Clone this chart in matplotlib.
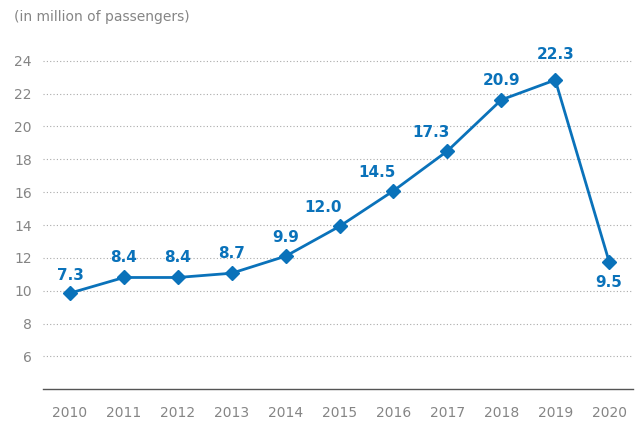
import matplotlib
matplotlib.use("Agg")
import matplotlib.pyplot as plt
import numpy as np

plt.rcParams['font.family'] = ['DejaVu Sans']

# passengers per year (million)
years = [2010, 2011, 2012, 2013, 2014, 2015, 2016, 2017, 2018, 2019, 2020]
passengers = [7.3, 8.4, 8.4, 8.7, 9.9, 12.0, 14.5, 17.3, 20.9, 22.3, 9.5]
grid_labels = [6, 8, 10, 12, 14, 16, 18, 20, 22, 24]

# printed grid runs on its own scale: grid = slope * value + shift
slope, shift = 0.865, 3.54

# label offsets in pixels (dx, dy)
label_dx = [0, 0, 0, 0, 0, -17, -16, -16, 0, 0, 0]
label_dy = [18, 20, 20, 20, 19, 19, 18, 19, 19, 25, -21]

blue = '#0a72ba'
grey = '#858585'

def to_value(g):
    return (g - shift) / slope

fig = plt.figure(figsize=(6.38, 4.21), dpi=100)
ax = fig.add_axes([0.0674, 0.0753, 0.9246, 0.80])

ax.plot(years, passengers, color=blue, lw=2.0, marker='D', markersize=7.5, zorder=3)

for x, v, dx, dy in zip(years, passengers, label_dx, label_dy):
    ax.annotate(f'{v:.1f}', (x, v), xytext=(dx * 0.72, dy * 0.72), textcoords='offset points',
                ha='center', va='center', fontsize=11, fontweight='bold', color=blue)

ticks = [to_value(g) for g in grid_labels]
ax.set_yticks(ticks)
ax.set_yticklabels([str(g) for g in grid_labels])
ax.set_ylim(to_value(4.0), to_value(24.5))
ax.set_xlim(2009.5, 2020.44)
ax.set_xticks(years)

ax.grid(axis='y', color='#aaaaaa', linestyle=(0, (1, 2)), lw=0.8)
ax.set_axisbelow(True)
for s in ['top', 'right', 'left']:
    ax.spines[s].set_visible(False)
ax.spines['bottom'].set_color('#555555')
ax.spines['bottom'].set_linewidth(1.0)
ax.tick_params(axis='both', length=0, labelsize=10, labelcolor=grey)
ax.tick_params(axis='x', pad=12)
ax.tick_params(axis='y', pad=8)

fig.text(14 / 638, 1 - 17 / 421, '(in million of passengers)', fontsize=10, color=grey,
         ha='left', va='center')

fig.savefig('out.png', dpi=100)
